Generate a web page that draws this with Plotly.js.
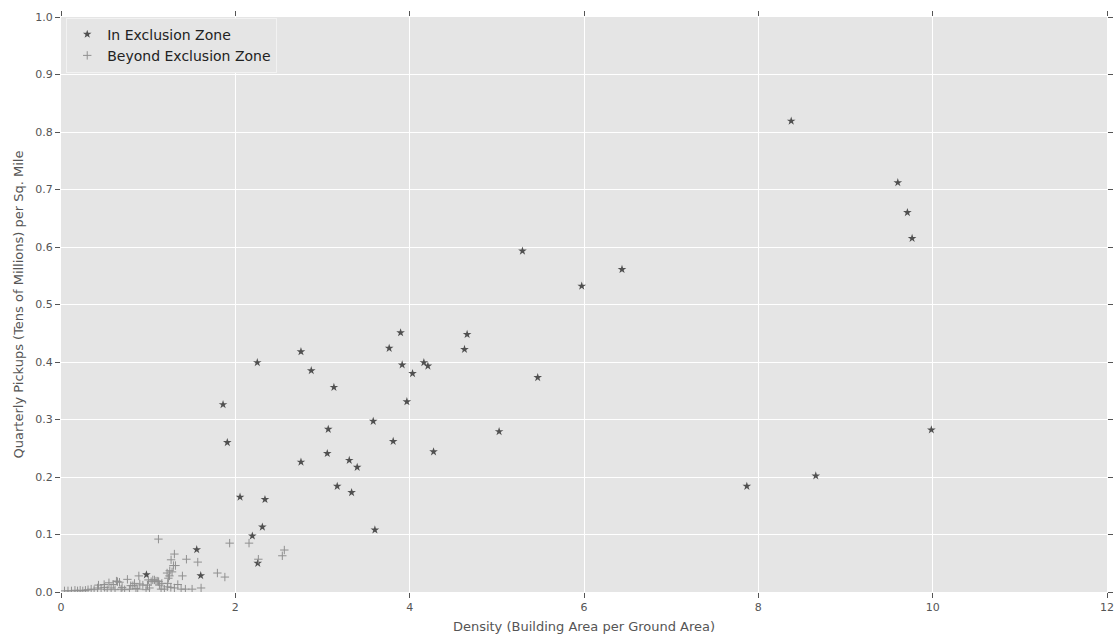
<!DOCTYPE html>
<html>
<head>
<meta charset="utf-8">
<script src="https://cdn.plot.ly/plotly-3.0.1.min.js"></script>
<style>html,body{margin:0;padding:0;background:#fff;}#chart{width:1115px;height:637px;}</style>
</head>
<body>
<div id="chart"></div>
<script>
// In Exclusion Zone
const inX = [8.377, 9.60, 9.71, 9.764, 5.294, 6.436, 5.974, 5.469, 5.026, 9.985, 8.659, 7.868,
  3.896, 4.659, 3.765, 4.629, 2.753, 2.252, 4.163, 4.209, 3.914, 4.033, 2.871, 3.131, 3.968,
  1.859, 3.582, 3.066, 3.811, 1.908, 4.274, 3.055, 2.753, 3.307, 3.398, 3.169, 3.334, 2.054,
  2.340, 2.310, 3.601, 2.195, 1.557, 2.257, 1.603, 0.980];
const inY = [0.819, 0.712, 0.660, 0.615, 0.593, 0.561, 0.532, 0.373, 0.279, 0.282, 0.202, 0.184,
  0.451, 0.448, 0.424, 0.422, 0.418, 0.399, 0.399, 0.393, 0.395, 0.380, 0.385, 0.356, 0.331,
  0.326, 0.297, 0.283, 0.262, 0.260, 0.244, 0.241, 0.226, 0.229, 0.217, 0.184, 0.173, 0.165,
  0.161, 0.113, 0.108, 0.0975, 0.0737, 0.050, 0.0285, 0.030];

// Beyond Exclusion Zone
const outX = [1.118, 1.935, 2.157, 2.562, 2.539, 2.264, 1.301, 1.263, 1.439, 1.569, 1.290, 1.313,
  1.248, 1.217, 1.393, 1.232, 1.794, 1.880, 1.607, 1.504, 1.427, 1.378, 1.340, 1.301, 1.220,
  1.157, 1.110, 1.072, 1.003, 1.274, 1.244,
  0.04, 0.08, 0.12, 0.16, 0.19, 0.22, 0.25, 0.28, 0.31, 0.346, 0.38, 0.42, 0.43, 0.46, 0.495,
  0.50, 0.53, 0.55, 0.575, 0.60, 0.62, 0.636, 0.648, 0.671, 0.69, 0.701, 0.73, 0.762, 0.785,
  0.80, 0.824, 0.843, 0.86, 0.88, 0.893, 0.904, 0.939, 0.976, 0.992, 1.015, 1.034, 1.053,
  1.09, 1.12, 1.129, 1.148, 1.186, 1.224, 1.26];
const outY = [0.092, 0.085, 0.085, 0.073, 0.063, 0.057, 0.066, 0.056, 0.057, 0.052, 0.046, 0.046,
  0.037, 0.033, 0.028, 0.024, 0.033, 0.026, 0.007, 0.005, 0.005, 0.005, 0.013, 0.007, 0.009,
  0.015, 0.019, 0.021, 0.021, 0.035, 0.028,
  0.002, 0.002, 0.002, 0.003, 0.002, 0.003, 0.002, 0.003, 0.004, 0.005, 0.004, 0.007, 0.012, 0.005, 0.013,
  0.008, 0.004, 0.016, 0.007, 0.013, 0.004, 0.019, 0.018, 0.017, 0.005, 0.008, 0.004, 0.022, 0.005,
  0.011, 0.011, 0.015, 0.006, 0.005, 0.028, 0.014, 0.012, 0.004, 0.012, 0.007, 0.018, 0.021,
  0.019, 0.018, 0.012, 0.005, 0.005, 0.015, 0.008];

const xTicks = [0, 2, 4, 6, 8, 10, 12];
const yTicks = [0, 0.1, 0.2, 0.3, 0.4, 0.5, 0.6, 0.7, 0.8, 0.9, 1.0];

const font = "'DejaVu Sans', sans-serif";
const traces = [
  {x: inX, y: inY, type: 'scatter', mode: 'markers', name: 'In Exclusion Zone',
   marker: {symbol: 'star', size: 6.5, color: '#505050', line: {width: 0}}},
  {x: outX, y: outY, type: 'scatter', mode: 'markers', name: 'Beyond Exclusion Zone',
   marker: {symbol: 'cross-thin-open', size: 6, color: '#909090', line: {width: 1, color: '#909090'}}}
];
const axisCommon = {
  showgrid: true, gridcolor: '#ffffff', gridwidth: 1, zeroline: false, showline: false,
  ticks: 'outside', ticklen: 5, tickcolor: '#555555', tickwidth: 1, mirror: 'ticks',
  tickfont: {family: font, size: 11, color: '#555555'}
};
const layout = {
  width: 1115, height: 637,
  margin: {l: 61, r: 8, t: 17, b: 45},
  paper_bgcolor: '#ffffff', plot_bgcolor: '#e5e5e5',
  font: {family: font, color: '#555555'},
  showlegend: true,
  legend: {x: 0.005, y: 0.999, xanchor: 'left', yanchor: 'top', bgcolor: '#e5e5e5',
           bordercolor: '#f2f2f2', borderwidth: 1, font: {family: font, size: 14, color: '#222222'}},
  xaxis: Object.assign({}, axisCommon, {range: [0, 12], tickvals: xTicks, ticktext: xTicks.map(String),
    title: {text: 'Density (Building Area per Ground Area)', font: {family: font, size: 13, color: '#555555'}, standoff: 8}}),
  yaxis: Object.assign({}, axisCommon, {range: [0, 1], tickvals: yTicks, ticktext: yTicks.map(v => v.toFixed(1)),
    title: {text: 'Quarterly Pickups (Tens of Millions) per Sq. Mile', font: {family: font, size: 13, color: '#555555'}, standoff: 8}})
};
Plotly.newPlot('chart', traces, layout, {displayModeBar: false, staticPlot: true});
</script>
</body>
</html>
